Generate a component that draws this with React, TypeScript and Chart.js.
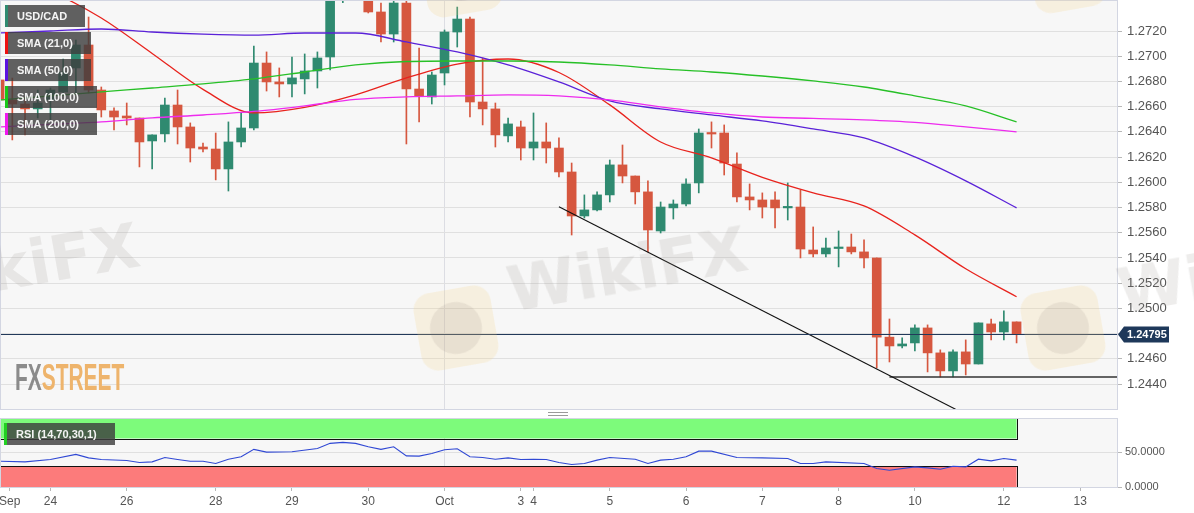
import React, { useEffect, useRef } from 'react';
import { Chart, registerables } from 'chart.js';

Chart.register(...registerables);

const FONT = "'Liberation Sans', Arial, Helvetica, sans-serif";

// ---------- data (4-hour candles, index = candle number) ----------
const open = [
  1.26812, 1.26653, 1.26621, 1.26582, 1.26653, 1.26716, 1.26907, 1.27089, 1.26732, 1.26566,
  1.26526, 1.2651, 1.26328, 1.26384, 1.26613, 1.26439, 1.2628, 1.26264, 1.26106, 1.2632,
  1.26431, 1.26946, 1.26796, 1.2678, 1.2682, 1.26883, 1.26994, 1.27509, 1.2758, 1.27509,
  1.27351, 1.27176, 1.27422, 1.2674, 1.26677, 1.26867, 1.27192, 1.27295, 1.26637, 1.26582,
  1.26368, 1.26439, 1.26272, 1.2632, 1.26272, 1.26082, 1.25733, 1.25781, 1.259, 1.26138,
  1.2605, 1.25924, 1.25614, 1.25797, 1.25828, 1.25995, 1.26391, 1.26391, 1.26145, 1.25884,
  1.2586, 1.2586, 1.25797, 1.25804, 1.25463, 1.25432, 1.25475, 1.25487, 1.25448, 1.254,
  1.24772, 1.24702, 1.24726, 1.24845, 1.24647, 1.24504, 1.24655, 1.24559, 1.24877, 1.24813,
  1.24893,
];
const high = [
  1.26851, 1.26827, 1.26677, 1.26732, 1.26748, 1.26978, 1.27129, 1.27311, 1.26756, 1.2659,
  1.26629, 1.2651, 1.26376, 1.26669, 1.26732, 1.26471, 1.26312, 1.26391, 1.26479, 1.2655,
  1.27081, 1.27034, 1.26907, 1.26994, 1.27018, 1.27034, 1.27525, 1.27644, 1.2766, 1.27565,
  1.27422, 1.27462, 1.27454, 1.27065, 1.26875, 1.27208, 1.2739, 1.27311, 1.26986, 1.26629,
  1.2651, 1.26486, 1.2655, 1.26471, 1.26352, 1.26153, 1.259, 1.25924, 1.26177, 1.26296,
  1.2605, 1.26011, 1.25844, 1.2586, 1.26027, 1.26423, 1.26479, 1.26455, 1.26233, 1.25987,
  1.25916, 1.25924, 1.25995, 1.25939, 1.25646, 1.25558, 1.25614, 1.2559, 1.25543, 1.254,
  1.24916, 1.24766, 1.24869, 1.24869, 1.24671, 1.24671, 1.2475, 1.24885, 1.24916, 1.2498,
  1.24893,
];
const low = [
  1.26629, 1.26336, 1.26375, 1.2651, 1.26494, 1.26693, 1.26709, 1.26709, 1.26518, 1.26415,
  1.26455, 1.26122, 1.26106, 1.2632, 1.26304, 1.26161, 1.26241, 1.26019, 1.25931, 1.2628,
  1.26415, 1.26724, 1.26677, 1.26677, 1.26701, 1.26748, 1.26891, 1.27425, 1.2747, 1.27343,
  1.27113, 1.27113, 1.26304, 1.26479, 1.26621, 1.26772, 1.27073, 1.26518, 1.26455, 1.2628,
  1.2632, 1.26177, 1.26177, 1.26153, 1.26042, 1.25582, 1.25717, 1.25773, 1.25844, 1.25995,
  1.25828, 1.25448, 1.25598, 1.25709, 1.25812, 1.25916, 1.26272, 1.26058, 1.25844, 1.25781,
  1.25717, 1.25638, 1.25701, 1.254, 1.25408, 1.25408, 1.25329, 1.25432, 1.25321, 1.24528,
  1.24575, 1.24686, 1.24663, 1.24496, 1.24456, 1.24456, 1.24472, 1.24559, 1.2475, 1.2475,
  1.24726,
];
const close = [
  1.26653, 1.26621, 1.26582, 1.26629, 1.26732, 1.26875, 1.27089, 1.26732, 1.26574, 1.26518,
  1.2651, 1.2632, 1.26376, 1.26613, 1.26439, 1.26272, 1.26264, 1.26106, 1.2632, 1.26431,
  1.26946, 1.26796, 1.2678, 1.26828, 1.26883, 1.26986, 1.27486, 1.27565, 1.27525, 1.27351,
  1.27176, 1.27422, 1.2674, 1.26685, 1.26851, 1.27192, 1.27295, 1.26637, 1.26582, 1.26376,
  1.26463, 1.26272, 1.2632, 1.26272, 1.26082, 1.25733, 1.25781, 1.259, 1.26138, 1.2605,
  1.25924, 1.25622, 1.25804, 1.25828, 1.25987, 1.26391, 1.26383, 1.26153, 1.25884, 1.2586,
  1.25804, 1.25797, 1.25804, 1.25471, 1.25432, 1.25479, 1.25479, 1.25448, 1.254, 1.24772,
  1.24702, 1.24718, 1.24845, 1.24647, 1.24504, 1.24655, 1.24559, 1.24885, 1.24813, 1.24893,
  1.24795,
];

// moving averages, read at every 4th candle
const smaIdx = [0, 4, 8, 12, 16, 20, 24, 28, 32, 36, 40, 44, 48, 52, 56, 60, 64, 68, 72, 76, 80];
const sma21 = [1.27683, 1.27517, 1.27303, 1.27022, 1.26737, 1.2655, 1.26594, 1.26693, 1.26828, 1.26938, 1.26978, 1.26871, 1.26614, 1.2632, 1.26194, 1.26039, 1.25916, 1.25813, 1.25583, 1.25314, 1.25092];
const sma50 = [1.27184, 1.272, 1.27216, 1.27192, 1.27176, 1.27168, 1.27184, 1.27184, 1.27113, 1.27034, 1.26931, 1.26796, 1.26645, 1.26582, 1.26534, 1.26487, 1.26423, 1.26352, 1.26201, 1.26011, 1.25797];
const sma100 = [1.26653, 1.26685, 1.26717, 1.26748, 1.2678, 1.2682, 1.26875, 1.26931, 1.26958, 1.26962, 1.26962, 1.26954, 1.26931, 1.26899, 1.26875, 1.26843, 1.26804, 1.26756, 1.26685, 1.26606, 1.26479];
const sma200 = [1.26439, 1.26459, 1.26479, 1.26511, 1.26534, 1.26562, 1.26606, 1.26657, 1.26677, 1.26685, 1.26693, 1.26685, 1.26653, 1.26598, 1.2655, 1.26518, 1.26507, 1.26495, 1.26475, 1.26439, 1.264];

// RSI (14)
const rsiIdx = [0, 2, 4, 6, 7, 8, 10, 11, 12, 13, 14, 15, 16, 17, 18, 19, 20, 21, 23, 25, 26, 27, 28, 29, 30, 31, 32, 33, 34, 35, 36, 37, 38, 39, 40, 41, 42, 43, 44, 45, 46, 47, 48, 50, 51, 52, 53, 54, 55, 56, 58, 60, 62, 63, 64, 65, 68, 69, 70, 72, 73, 74, 75, 76, 77, 78, 79, 80];
const rsiVal = [37.2, 36.2, 39.7, 47, 42, 39.7, 38.3, 35.4, 36.2, 42.6, 39.7, 37.2, 37.2, 33.9, 40.1, 43.5, 54.2, 50.3, 50.7, 55.6, 62.9, 64.3, 62.9, 58, 54.2, 58, 44.9, 44.5, 48.4, 53.6, 55.1, 43.5, 42.6, 40.1, 42, 39.7, 40.1, 39.7, 35.4, 32.5, 33.9, 38.7, 42.6, 40.1, 33.9, 38.7, 40.1, 43.5, 51.7, 51.7, 42.6, 42, 41.1, 33.9, 33.9, 36.2, 33.9, 26.7, 24.2, 29, 27.5, 25.6, 30, 29, 40.1, 37.7, 41.1, 38.7];
const rsiUpperBand = [70, 100];
const rsiLowerBand = [0, 30];

// trend lines drawn on the chart
const trendDownX = [44, 75.2];
const trendDownY = [1.25807, 1.242];
const supportX = [70, 88];
const supportY = [1.24456, 1.24456];

// axes
const priceTicks = [1.244, 1.246, 1.248, 1.25, 1.252, 1.254, 1.256, 1.258, 1.26, 1.262, 1.264, 1.266, 1.268, 1.27, 1.272];
const rsiTicks = [0, 50];
const dayTickIdx = [0.8, 4, 10, 17, 23, 29, 35, 41, 42, 48, 54, 60, 66, 72, 79, 85];
const dayTickLabels = ['Sep', '24', '26', '28', '29', '30', 'Oct', '3', '4', '5', '6', '7', '8', '10', '12', '13'];
const monthStartIdx = 35;
const viewMin = 0.11;
const viewMax = 87.9;
const priceMin = 1.24202;
const priceMax = 1.27438;
const rsiMin = 0;
const rsiMax = 98;

const legendLabels = ['USD/CAD', 'SMA (21,0)', 'SMA (50,0)', 'SMA (100,0)', 'SMA (200,0)'];

// ---------- styles ----------
const UP = '#2f8a70';
const DOWN = '#d6573f';
const C21 = '#e8231d';
const C50 = '#5a22d8';
const C100 = '#27c027';
const C200 = '#ee2bee';
const legendColors = [UP, '#ee1111', '#5a12e0', '#18c818', '#f018f0'];
const PLOT_BG = '#f7f7f7';
const BORDER = '#d3d6e2';
const GRID = '#e0e0e0';

const plotFrame = {
  id: 'plotFrame',
  beforeDraw(chart: any) {
    const { ctx, chartArea: a } = chart;
    ctx.save();
    ctx.fillStyle = PLOT_BG;
    ctx.fillRect(a.left, a.top, a.right - a.left, a.bottom - a.top);
    ctx.restore();
  },
  afterDraw(chart: any) {
    const { ctx, chartArea: a } = chart;
    ctx.save();
    ctx.strokeStyle = BORDER;
    ctx.lineWidth = 1;
    ctx.strokeRect(a.left - 0.5, a.top - 0.5, a.right - a.left + 1, a.bottom - a.top + 1);
    ctx.restore();
  },
};

const lastPrice = {
  id: 'lastPrice',
  afterDatasetsDraw(chart: any) {
    const { ctx, chartArea: a, scales } = chart;
    const last = close[close.length - 1];
    const y = Math.round(scales.y.getPixelForValue(last)) + 0.5;
    ctx.save();
    ctx.strokeStyle = '#22395a';
    ctx.lineWidth = 1;
    ctx.beginPath();
    ctx.moveTo(a.left, y);
    ctx.lineTo(a.right, y);
    ctx.stroke();
    ctx.restore();
  },
  afterDraw(chart: any) {
    const { ctx, chartArea: a, scales } = chart;
    const last = close[close.length - 1];
    const y = Math.round(scales.y.getPixelForValue(last)) + 0.5;
    const x0 = a.right + 1;
    ctx.save();
    ctx.fillStyle = '#1e385a';
    ctx.beginPath();
    ctx.moveTo(x0, y);
    ctx.lineTo(x0 + 6, y - 8);
    ctx.lineTo(x0 + 51, y - 8);
    ctx.lineTo(x0 + 51, y + 8);
    ctx.lineTo(x0 + 6, y + 8);
    ctx.closePath();
    ctx.fill();
    ctx.fillStyle = '#ffffff';
    ctx.font = `bold 11px ${FONT}`;
    ctx.textBaseline = 'middle';
    ctx.fillText(last.toFixed(5), x0 + 9, y + 0.5);
    ctx.restore();
  },
};

const rsiBands = {
  id: 'rsiBands',
  beforeDatasetsDraw(chart: any) {
    const { ctx, chartArea: a, scales } = chart;
    const x1 = scales.x.getPixelForValue(rsiIdx[0]);
    const x2 = scales.x.getPixelForValue(rsiIdx[rsiIdx.length - 1]);
    ctx.save();
    ctx.beginPath();
    ctx.rect(a.left, a.top, a.right - a.left, a.bottom - a.top);
    ctx.clip();
    const band = (range: number[], fill: string) => {
      const yTop = scales.y.getPixelForValue(range[1]);
      const yBot = scales.y.getPixelForValue(range[0]);
      ctx.fillStyle = fill;
      ctx.fillRect(x1, yTop, x2 - x1, yBot - yTop);
      ctx.strokeStyle = '#111';
      ctx.lineWidth = 1;
      ctx.strokeRect(Math.round(x1) + 0.5, Math.round(yTop) + 0.5, Math.round(x2 - x1), Math.round(yBot - yTop));
    };
    band(rsiUpperBand, '#7dfb7b');
    band(rsiLowerBand, '#fc7b7b');
    ctx.restore();
  },
};

function dayTicks(s: any) {
  s.ticks = dayTickIdx.map((v) => ({ value: v }));
}

function noPad(s: any) {
  s.paddingTop = 0;
  s.paddingBottom = 0;
  s.paddingLeft = 0;
  s.paddingRight = 0;
}

function Watermark({ left, top }: { left: number; top: number }) {
  return (
    <div
      style={{
        position: 'absolute',
        left,
        top,
        transform: 'rotate(-10deg)',
        transformOrigin: 'left center',
        fontFamily: "'DejaVu Sans', sans-serif",
        fontWeight: 'bold',
        fontSize: 62,
        lineHeight: '70px',
        color: 'rgba(150,140,135,0.16)',
        whiteSpace: 'nowrap',
        pointerEvents: 'none',
      }}
    >
      WikiFX
    </div>
  );
}

function Logo({ left, top, size }: { left: number; top: number; size: number }) {
  return (
    <div
      style={{
        position: 'absolute',
        left,
        top,
        width: size,
        height: size,
        borderRadius: size * 0.22,
        background: 'rgba(245,210,130,0.2)',
        transform: 'rotate(-10deg)',
        pointerEvents: 'none',
      }}
    >
      <div
        style={{
          position: 'absolute',
          left: size * 0.17,
          top: size * 0.17,
          width: size * 0.66,
          height: size * 0.66,
          borderRadius: '50%',
          background: 'rgba(140,125,120,0.14)',
        }}
      />
    </div>
  );
}

export default function App() {
  const mainRef = useRef<HTMLCanvasElement>(null);
  const rsiRef = useRef<HTMLCanvasElement>(null);

  useEffect(() => {
    const idx = close.map((_, i) => i);
    const colors = idx.map((i) => (close[i] >= open[i] ? UP : DOWN));
    const line = (xs: number[], ys: number[], color: string, width: number, order: number, smooth: boolean) => ({
      type: 'line' as const,
      data: xs.map((x, k) => ({ x, y: ys[k] })),
      borderColor: color,
      borderWidth: width,
      pointRadius: 0,
      fill: false,
      tension: 0,
      cubicInterpolationMode: smooth ? ('monotone' as const) : ('default' as const),
      order,
    });

    const main = new Chart(mainRef.current as HTMLCanvasElement, {
      type: 'bar',
      data: {
        datasets: [
          {
            type: 'bar',
            data: idx.map((i) => ({ x: i, y: [low[i], high[i]] })) as any,
            backgroundColor: colors,
            barThickness: 1,
            grouped: false,
            order: 4,
          } as any,
          {
            type: 'bar',
            data: idx.map((i) => ({ x: i, y: [open[i], close[i]] })) as any,
            backgroundColor: colors,
            barThickness: 9,
            minBarLength: 1.5,
            grouped: false,
            order: 3,
          } as any,
          line(smaIdx, sma200, C200, 1.3, 2, true),
          line(smaIdx, sma100, C100, 1.3, 2, true),
          line(smaIdx, sma50, C50, 1.3, 2, true),
          line(smaIdx, sma21, C21, 1.3, 2, true),
          line(trendDownX, trendDownY, '#111111', 1.1, 1, false),
          line(supportX, supportY, '#333333', 1.4, 1, false),
        ],
      },
      options: {
        animation: false,
        responsive: false,
        events: [],
        layout: { padding: { left: 1, top: 1, right: 0, bottom: 1 } },
        plugins: { legend: { display: false }, tooltip: { enabled: false } },
        scales: {
          x: {
            type: 'linear',
            min: viewMin,
            max: viewMax,
            offset: false,
            afterBuildTicks: dayTicks,
            afterFit: (s: any) => {
              s.height = 0;
              noPad(s);
            },
            ticks: { display: false },
            grid: {
              offset: false,
              drawTicks: false,
              color: (c: any) => (c.tick && c.tick.value === monthStartIdx ? '#dcdde3' : 'rgba(0,0,0,0)'),
            },
            border: { display: false },
          },
          y: {
            type: 'linear',
            position: 'right',
            min: priceMin,
            max: priceMax,
            beginAtZero: false,
            afterBuildTicks: (s: any) => {
              s.ticks = priceTicks.map((v) => ({ value: v }));
            },
            afterFit: (s: any) => {
              s.width = 77;
              noPad(s);
            },
            ticks: {
              color: '#555',
              font: { size: 13, family: FONT },
              padding: 5,
              callback: (v: any) => Number(v).toFixed(4),
            },
            grid: { color: GRID, tickColor: '#b8b8b8', tickLength: 5 },
            border: { display: true, color: BORDER },
          },
        },
      } as any,
      plugins: [plotFrame, lastPrice],
    });

    const rsi = new Chart(rsiRef.current as HTMLCanvasElement, {
      type: 'line',
      data: {
        datasets: [
          {
            data: rsiIdx.map((x, k) => ({ x, y: rsiVal[k] })),
            borderColor: '#3048d4',
            borderWidth: 1.1,
            pointRadius: 0,
            tension: 0,
            fill: false,
          },
        ],
      },
      options: {
        animation: false,
        responsive: false,
        events: [],
        layout: { padding: { left: 1, top: 1, right: 0, bottom: 0 } },
        plugins: { legend: { display: false }, tooltip: { enabled: false } },
        scales: {
          x: {
            type: 'linear',
            min: viewMin,
            max: viewMax,
            offset: false,
            afterBuildTicks: dayTicks,
            afterFit: (s: any) => {
              s.height = 26;
              noPad(s);
            },
            ticks: {
              color: '#555',
              font: { size: 12, family: FONT },
              padding: 3,
              autoSkip: false,
              maxRotation: 0,
              callback: (v: any) => dayTickLabels[dayTickIdx.indexOf(Number(v))],
            },
            grid: {
              offset: false,
              drawTicks: true,
              tickLength: 4,
              tickColor: '#b8b8b8',
              color: (c: any) => (c.tick && c.tick.value === monthStartIdx ? '#dcdde3' : 'rgba(0,0,0,0)'),
            },
            border: { display: false },
          },
          y: {
            type: 'linear',
            position: 'right',
            min: rsiMin,
            max: rsiMax,
            afterBuildTicks: (s: any) => {
              s.ticks = rsiTicks.map((v) => ({ value: v }));
            },
            afterFit: (s: any) => {
              s.width = 77;
              noPad(s);
            },
            ticks: {
              color: '#555',
              font: { size: 11, family: FONT },
              padding: 3,
              callback: (v: any) => Number(v).toFixed(4),
            },
            grid: { color: GRID, tickColor: '#b8b8b8', tickLength: 5 },
            border: { display: true, color: BORDER },
          },
        },
      } as any,
      plugins: [plotFrame, rsiBands],
    });

    return () => {
      main.destroy();
      rsi.destroy();
    };
  }, []);

  const boxBase: React.CSSProperties = {
    position: 'absolute',
    left: 5,
    height: 22,
    lineHeight: '22px',
    padding: '0 18px 0 9px',
    background: 'rgba(62,62,62,0.82)',
    color: '#f4f4f4',
    fontFamily: FONT,
    fontWeight: 'bold',
    fontSize: 11,
    whiteSpace: 'nowrap',
    boxSizing: 'content-box',
  };

  return (
    <div
      style={{
        position: 'absolute',
        left: 0,
        top: 0,
        width: 1194,
        height: 513,
        background: '#ffffff',
        overflow: 'hidden',
      }}
    >
      <canvas ref={mainRef} width={1194} height={410} style={{ position: 'absolute', left: 0, top: 0 }} />
      <canvas ref={rsiRef} width={1194} height={95} style={{ position: 'absolute', left: 0, top: 418 }} />

      {/* watermarks */}
      <Logo left={423} top={-62} size={76} />
      <Logo left={1031} top={-62} size={72} />
      <Watermark left={-100} top={252} />
      <Logo left={417} top={289} size={78} />
      <Watermark left={508} top={256} />
      <Logo left={1024} top={289} size={78} />
      <Watermark left={1118} top={258} />

      {/* FXStreet logo */}
      <div
        style={{
          position: 'absolute',
          left: 15,
          top: 359,
          fontFamily: FONT,
          fontWeight: 'bold',
          fontSize: 37,
          lineHeight: '37px',
          whiteSpace: 'nowrap',
          transform: 'scaleX(0.565)',
          transformOrigin: 'left top',
        }}
      >
        <span style={{ color: '#8b8b8b' }}>FX</span>
        <span style={{ color: '#eeb46c' }}>STREET</span>
      </div>

      {/* legend */}
      {legendLabels.map((t, k) => (
        <div key={t} style={{ ...boxBase, top: 5 + k * 27, borderLeft: `3px solid ${legendColors[k]}` }}>
          {t}
        </div>
      ))}
      <div style={{ ...boxBase, left: 4, top: 423, borderLeft: '3px solid #22d022' }}>RSI (14,70,30,1)</div>

      {/* panel splitter */}
      <div
        style={{
          position: 'absolute',
          left: 548,
          top: 412,
          width: 20,
          height: 2,
          borderTop: '1px solid #9a9a9a',
          borderBottom: '1px solid #9a9a9a',
        }}
      />
    </div>
  );
}
